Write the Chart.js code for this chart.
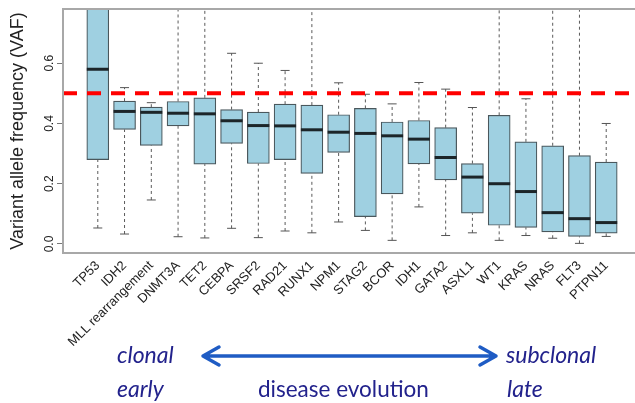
<!DOCTYPE html>
<html>
<head>
<meta charset="utf-8">
<script src="https://cdn.jsdelivr.net/npm/chart.js@4.4.1/dist/chart.umd.min.js"></script>
<style>
  html, body { margin: 0; padding: 0; background: #fff; overflow: hidden; }
  #wrap { position: relative; width: 645px; height: 403px; }
</style>
</head>
<body>
<div id="wrap"><canvas id="vafChart" width="645" height="403"></canvas></div>
<script>
// gene order as on the x axis
var genes = ['TP53', 'IDH2', 'MLL rearrangement', 'DNMT3A', 'TET2', 'CEBPA', 'SRSF2', 'RAD21', 'RUNX1', 'NPM1',
             'STAG2', 'BCOR', 'IDH1', 'GATA2', 'ASXL1', 'WT1', 'KRAS', 'NRAS', 'FLT3', 'PTPN11'];

// box plot stats (VAF)
var whiskerLow  = [0.053, 0.033, 0.146, 0.024, 0.020, 0.052, 0.021, 0.043, 0.037, 0.073, 0.045, 0.012, 0.123, 0.028, 0.037, 0.012, 0.028, 0.019, 0.002, 0.025];
var quart1      = [0.280, 0.380, 0.327, 0.392, 0.265, 0.334, 0.267, 0.280, 0.234, 0.304, 0.091, 0.166, 0.266, 0.213, 0.102, 0.062, 0.055, 0.040, 0.025, 0.036];
var medians     = [0.580, 0.440, 0.437, 0.434, 0.432, 0.409, 0.393, 0.392, 0.379, 0.371, 0.367, 0.359, 0.348, 0.287, 0.222, 0.200, 0.174, 0.104, 0.084, 0.071];
var quart3      = [0.850, 0.474, 0.454, 0.473, 0.485, 0.446, 0.438, 0.464, 0.461, 0.429, 0.450, 0.405, 0.410, 0.386, 0.267, 0.427, 0.339, 0.326, 0.293, 0.272];
var whiskerHigh = [0.950, 0.519, 0.469, 0.900, 0.900, 0.633, 0.600, 0.576, 0.900, 0.535, 0.497, 0.465, 0.536, 0.514, 0.453, 0.900, 0.482, 0.900, 0.900, 0.400];

var yTicks = [0, 0.2, 0.4, 0.6];
var cutoff = 0.5;

var boxData = [], medData = [], capData = [], whiskData = [];
for (var i = 0; i < genes.length; i++) {
    var x = i + 1;
    boxData.push({x: x, y: [quart1[i], quart3[i]]});
    medData.push({x: x, y: medians[i]});
    capData.push({x: x, y: whiskerLow[i]});
    capData.push({x: x, y: whiskerHigh[i]});
    whiskData.push({x: x, y: whiskerLow[i]}, {x: x, y: quart1[i]}, {x: x, y: null});
    whiskData.push({x: x, y: quart3[i]}, {x: x, y: whiskerHigh[i]}, {x: x, y: null});
}

var frameAndNotes = {
    id: 'frameAndNotes',
    afterDraw: function (chart) {
        var a = chart.chartArea, ctx = chart.ctx;
        ctx.save();
        ctx.strokeStyle = '#a8a8a8';
        ctx.lineWidth = 2;
        ctx.strokeRect(a.left, a.top, a.right - a.left, a.bottom - a.top);

        // evolution note under the plot
        ctx.fillStyle = '#22228c';
        ctx.textBaseline = 'alphabetic';
        ctx.font = 'italic 23px Lato';
        ctx.fillText('clonal', 117, 363);
        ctx.fillText('subclonal', 506, 363);
        ctx.fillText('early', 117, 397);
        ctx.fillText('late', 507, 397);
        ctx.font = '22.5px Lato';
        ctx.fillText('disease evolution', 258, 397);

        ctx.strokeStyle = '#1f5cc4';
        ctx.lineWidth = 3.5;
        ctx.lineCap = 'round';
        ctx.lineJoin = 'round';
        ctx.beginPath();
        ctx.moveTo(203, 356); ctx.lineTo(496, 356);
        ctx.moveTo(219, 347); ctx.lineTo(203, 356); ctx.lineTo(219, 365);
        ctx.moveTo(480, 347); ctx.lineTo(496, 356); ctx.lineTo(480, 365);
        ctx.stroke();
        ctx.restore();
    }
};

var ctx = document.getElementById('vafChart').getContext('2d');
var vafChart = new Chart(ctx, {
    type: 'bar',
    data: {
        datasets: [{
            type: 'line',
            data: [{x: -0.3, y: cutoff}, {x: 21.3, y: cutoff}],
            borderColor: '#ff0000',
            borderWidth: 4,
            borderDash: [14, 10],
            pointRadius: 0,
            order: 0
        }, {
            type: 'line',
            data: medData,
            showLine: false,
            pointStyle: 'line',
            pointRadius: 11,
            pointBorderWidth: 3,
            pointBorderColor: '#1c2529',
            order: 1
        }, {
            type: 'bar',
            data: boxData,
            backgroundColor: '#9fd0e1',
            borderColor: '#4a575c',
            borderWidth: 1.2,
            borderSkipped: false,
            barThickness: 22,
            order: 2
        }, {
            type: 'line',
            data: capData,
            showLine: false,
            pointStyle: 'line',
            pointRadius: 4.5,
            pointBorderWidth: 1,
            pointBorderColor: '#555',
            order: 3
        }, {
            type: 'line',
            data: whiskData,
            borderColor: '#5a5a5a',
            borderWidth: 1,
            borderDash: [3, 3],
            pointRadius: 0,
            spanGaps: false,
            order: 4
        }]
    },
    options: {
        responsive: false,
        animation: false,
        devicePixelRatio: 1,
        layout: {autoPadding: false, padding: {left: 0, right: 4, top: 9, bottom: 0}},
        plugins: {legend: {display: false}, tooltip: {enabled: false}},
        scales: {
            x: {
                type: 'linear',
                offset: false,
                min: -0.3,
                max: 21.3,
                afterBuildTicks: function (s) {
                    s.ticks = genes.map(function (g, i) { return {value: i + 1}; });
                },
                afterFit: function (s) {
                    s.height = 150;
                    s.paddingLeft = 0;
                    s.paddingRight = 0;
                },
                grid: {display: false, drawTicks: false},
                border: {display: false},
                ticks: {
                    autoSkip: false,
                    minRotation: 45,
                    maxRotation: 45,
                    padding: 5,
                    color: '#222',
                    font: {family: 'Liberation Sans', size: 13},
                    callback: function (v) { return genes[v - 1]; }
                }
            },
            y: {
                min: -0.03,
                max: 0.78,
                afterBuildTicks: function (s) {
                    s.ticks = yTicks.map(function (v) { return {value: v}; });
                },
                afterFit: function (s) {
                    s.width = 63;
                    s.paddingTop = 0;
                    s.paddingBottom = 0;
                },
                grid: {drawOnChartArea: false, tickLength: 6, color: '#777'},
                border: {display: false},
                ticks: {
                    minRotation: 90,
                    maxRotation: 90,
                    crossAlign: 'center',
                    padding: -1,
                    color: '#222',
                    font: {family: 'Liberation Sans', size: 12},
                    callback: function (v) { return v.toFixed(1); }
                },
                title: {
                    display: true,
                    text: 'Variant allele frequency (VAF)',
                    color: '#222',
                    padding: {top: 7, bottom: 0},
                    font: {family: 'Liberation Sans', size: 18}
                }
            }
        }
    },
    plugins: [frameAndNotes]
});
</script>
</body>
</html>
